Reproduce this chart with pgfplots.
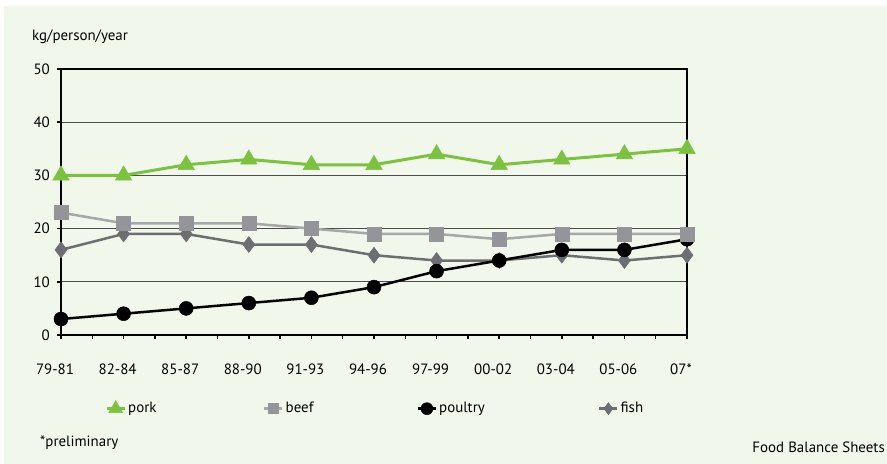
\documentclass[border=0pt]{standalone}
\usepackage{pgfplots}
\pgfplotsset{compat=1.18}
\usepackage{fontspec}
\setmainfont{PT Sans}
\definecolor{bg}{HTML}{F2F7EC}
\definecolor{porkc}{HTML}{7DC142}
\definecolor{beefc}{HTML}{939598}
\definecolor{beefl}{HTML}{A5A7AA}
\definecolor{fishc}{HTML}{6D6E71}
\definecolor{gridc}{HTML}{4D4D4D}
\begin{document}
\fontsize{15}{18}\selectfont
\begin{tikzpicture}[x=1bp,y=1bp]
\fill[white] (0,0) rectangle (887,464);
\fill[bg] (4,0) rectangle (887,458);
\useasboundingbox (0,0) rectangle (887,464);
\begin{axis}[
 at={(61bp,129bp)}, anchor=south west,
 scale only axis, width=626bp, height=266bp,
 xmin=0, xmax=10, ymin=0, ymax=50,
 clip=false,
 /pgf/number format/assume math mode=true,
 xtick={0,...,10},
 xticklabels={79-81,82-84,85-87,88-90,91-93,94-96,97-99,00-02,03-04,05-06,07*},
 minor x tick num=1,
 ytick={0,10,...,50},
 xtick pos=bottom, ytick pos=left,
 tick align=outside,
 major tick length=4bp, minor tick length=4bp,
 every tick/.style={black, line width=1.5bp},
 axis line style={black, line width=2.2bp},
 ymajorgrids,
 major grid style={gridc, line width=1.1bp},
 ticklabel style={font=\fontsize{15}{18}\selectfont},
 xticklabel style={yshift=-20bp, xshift=-6bp},
 yticklabel style={xshift=-2bp},
 reverse legend,
 legend columns=4,
 legend style={at={(0.0703,-0.277)}, anchor=west, draw=none, fill=none, inner sep=0pt,
   font=\fontsize{15}{18}\selectfont, /tikz/every even column/.append style={column sep=0bp}},
 legend cell align=left,
 legend image code/.code={\draw[#1] (-9bp,0bp) -- (9bp,0bp); \draw[#1] plot coordinates {(0bp,0bp)};},
]
\addplot[fishc, line width=2.5bp, mark=diamond*, mark size=8bp, mark options={solid, fill=fishc, line width=0.5bp},
 legend image post style={mark size=6bp}]
 coordinates {(0,16)(1,19)(2,19)(3,17)(4,17)(5,15)(6,14)(7,14)(8,15)(9,14)(10,15)};
\addlegendentry{fish}
\addplot[black, line width=2.5bp, mark=*, mark size=7bp, mark options={solid, fill=black, line width=0.5bp},
 legend image post style={mark size=6bp}]
 coordinates {(0,3)(1,4)(2,5)(3,6)(4,7)(5,9)(6,12)(7,14)(8,16)(9,16)(10,18)};
\addlegendentry{\makebox[157bp][l]{poultry}}
\addplot[beefl, line width=2.5bp, mark=square*, mark size=7bp, mark options={solid, fill=beefc, draw=beefc, line width=0.5bp},
 legend image post style={mark size=5bp}]
 coordinates {(0,23)(1,21)(2,21)(3,21)(4,20)(5,19)(6,19)(7,18)(8,19)(9,19)(10,19)};
\addlegendentry{\makebox[129bp][l]{beef}}
\addplot[porkc, line width=3bp, mark=triangle*, mark size=9.5bp, mark options={solid, fill=porkc, line width=0.5bp},
 legend image post style={mark size=8bp}]
 coordinates {(0,30)(1,30)(2,32)(3,33)(4,32)(5,32)(6,34)(7,32)(8,33)(9,34)(10,35)};
\addlegendentry{\makebox[133bp][l]{pork}}
\end{axis}
\node[anchor=west, inner sep=0pt] at (32,427) {kg/person/year};
\node[anchor=west, inner sep=0pt] at (40,21) {*preliminary};
\node[anchor=east, inner sep=0pt] at (885,17) {Food Balance Sheets};
\end{tikzpicture}
\end{document}
